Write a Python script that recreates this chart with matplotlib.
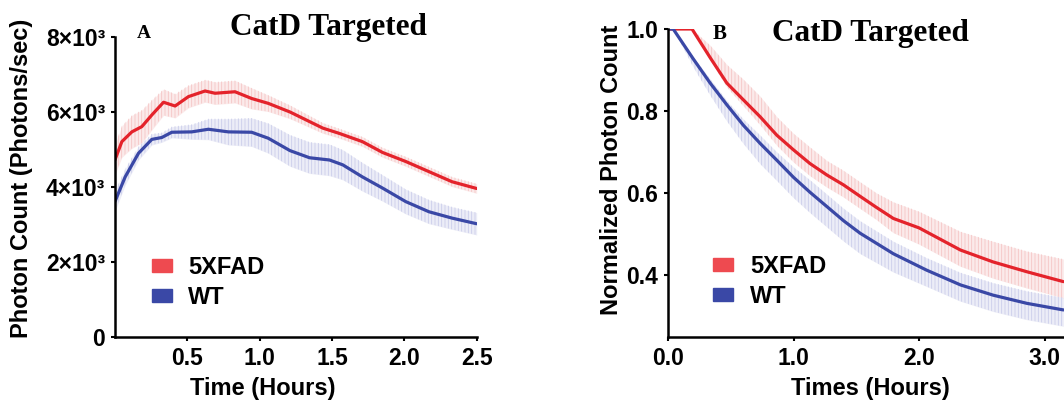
import matplotlib.pyplot as plt
from matplotlib.patches import Patch
from matplotlib.ticker import FixedLocator

# Panel A: raw photon counts (x10^3 photons/sec)
time_a_fx = [0.0, 0.048, 0.117, 0.186, 0.255, 0.336, 0.416, 0.508, 0.623, 0.692, 0.83,
             0.945, 1.06, 1.21, 1.437, 1.55, 1.71, 1.85, 2.01, 2.17, 2.33, 2.5]
fxad_a = [4.72, 5.21, 5.47, 5.61, 5.92, 6.26, 6.16, 6.41, 6.56, 6.50, 6.54,
          6.36, 6.23, 6.00, 5.57, 5.43, 5.21, 4.92, 4.68, 4.41, 4.14, 3.96]
fxad_a_err = [0.4, 0.42, 0.44, 0.44, 0.4, 0.35, 0.32, 0.3, 0.3, 0.3, 0.3,
              0.28, 0.22, 0.18, 0.14, 0.13, 0.13, 0.13, 0.13, 0.13, 0.13, 0.13]
time_a_wt = [0.0, 0.071, 0.163, 0.255, 0.324, 0.393, 0.531, 0.646, 0.784, 0.945, 1.06,
             1.21, 1.345, 1.483, 1.575, 1.71, 1.85, 2.01, 2.17, 2.33, 2.5]
wt_a = [3.61, 4.27, 4.90, 5.27, 5.32, 5.46, 5.47, 5.54, 5.47, 5.46, 5.30,
        4.97, 4.78, 4.72, 4.59, 4.27, 3.97, 3.61, 3.34, 3.17, 3.02]
wt_a_err = [0.27, 0.22, 0.18, 0.15, 0.13, 0.15, 0.2, 0.28, 0.35, 0.38, 0.4,
            0.42, 0.42, 0.42, 0.4, 0.38, 0.35, 0.33, 0.32, 0.3, 0.3]

# Panel B: normalized photon counts
time_b_fx = [0.0, 0.19, 0.335, 0.468, 0.6, 0.733, 0.866, 1.0, 1.13, 1.265, 1.397, 1.53,
             1.66, 1.795, 2.0, 2.33, 2.59, 2.86, 3.15]
fxad_b = [1.0, 1.0, 0.93, 0.868, 0.827, 0.786, 0.741, 0.705, 0.672, 0.644, 0.62, 0.592,
          0.565, 0.538, 0.515, 0.461, 0.432, 0.408, 0.384]
fxad_b_hi = [0.0, 0.0, 0.03, 0.045, 0.05, 0.05, 0.045, 0.04, 0.04, 0.035, 0.035, 0.035,
             0.035, 0.04, 0.04, 0.045, 0.05, 0.05, 0.055]
fxad_b_lo = [0.0, 0.0, 0.005, 0.01, 0.015, 0.02, 0.025, 0.03, 0.03, 0.03, 0.03, 0.03,
             0.03, 0.035, 0.04, 0.04, 0.04, 0.04, 0.04]
time_b_wt = [0.0, 0.04, 0.2, 0.335, 0.468, 0.6, 0.733, 0.866, 1.0, 1.13, 1.265, 1.4,
             1.53, 1.795, 2.06, 2.33, 2.59, 2.86, 3.15]
wt_b = [1.0, 1.0, 0.927, 0.868, 0.815, 0.765, 0.721, 0.68, 0.638, 0.602, 0.567, 0.532,
        0.502, 0.452, 0.412, 0.376, 0.351, 0.331, 0.315]
wt_b_hi = [0.0, 0.0, 0.005, 0.01, 0.01, 0.015, 0.02, 0.02, 0.025, 0.03, 0.03, 0.03,
           0.03, 0.03, 0.03, 0.03, 0.03, 0.03, 0.03]
wt_b_lo = [0.0, 0.0, 0.02, 0.03, 0.04, 0.045, 0.05, 0.05, 0.05, 0.05, 0.05, 0.05,
           0.05, 0.045, 0.04, 0.04, 0.04, 0.04, 0.04]

labels = ['5XFAD', 'WT']
red, blue = '#e4232b', '#3a48a6'
red_band, blue_band = '#f5c4c4', '#cbcdea'
red_patch, blue_patch = '#ee4a50', '#3a48a6'

plt.rcParams['font.family'] = 'Liberation Sans'
plt.rcParams['font.weight'] = 'bold'
plt.rcParams['axes.labelweight'] = 'bold'
plt.rcParams['hatch.linewidth'] = 0.6

fig = plt.figure(figsize=(10.64, 4), dpi=100)
ax_a = fig.add_axes([0.108, 0.1575, 0.340, 0.75])
ax_b = fig.add_axes([0.628, 0.1575, 0.372, 0.77])


def band(ax, t, y, lo_err, hi_err, color, line_color):
    lo = [v - e for v, e in zip(y, lo_err)]
    hi = [v + e for v, e in zip(y, hi_err)]
    ax.fill_between(t, lo, hi, facecolor='none', edgecolor=color, hatch='|||||', linewidth=0)
    ax.fill_between(t, lo, hi, color=color, alpha=0.35, linewidth=0)
    ax.plot(t, y, color=line_color, lw=2.3, solid_capstyle='round', solid_joinstyle='round')


def style(ax):
    for s in ['top', 'right']:
        ax.spines[s].set_visible(False)
    for s in ['left', 'bottom']:
        ax.spines[s].set_linewidth(1.8)
    ax.tick_params(width=1.5, length=3, labelsize=16.5, pad=4)


# Panel A
band(ax_a, time_a_fx, [v * 1000 for v in fxad_a], [e * 1000 for e in fxad_a_err],
     [e * 1000 for e in fxad_a_err], red_band, red)
band(ax_a, time_a_wt, [v * 1000 for v in wt_a], [e * 1000 for e in wt_a_err],
     [e * 1000 for e in wt_a_err], blue_band, blue)
ax_a.set_xlim(0, 2.5)
ax_a.set_ylim(0, 8000)
ax_a.xaxis.set_major_locator(FixedLocator([0.5, 1.0, 1.5, 2.0, 2.5]))
ax_a.set_xticklabels(['0.5', '1.0', '1.5', '2.0', '2.5'])
ax_a.yaxis.set_major_locator(FixedLocator([0, 2000, 4000, 6000, 8000]))
ax_a.set_yticklabels(['0', '2×10³', '4×10³', '6×10³', '8×10³'])
ax_a.set_xlabel('Time (Hours)', fontsize=17)
ax_a.set_ylabel('Photon Count (Photons/sec)', fontsize=17)
ax_a.xaxis.set_label_coords(0.41, -0.133)
ax_a.yaxis.set_label_coords(-0.227, 0.53)
style(ax_a)
ax_a.text(0.06, 1.01, 'A', transform=ax_a.transAxes, family='Liberation Serif',
          fontsize=14, fontweight='bold', va='center')
ax_a.text(0.59, 1.03, 'CatD Targeted', transform=ax_a.transAxes, family='Liberation Serif',
          fontsize=22.5, fontweight='bold', ha='center', va='center')
ax_a.legend(handles=[Patch(color=red_patch), Patch(color=blue_patch)], labels=labels,
            loc='lower left', bbox_to_anchor=(0.043, 0.022), frameon=False, fontsize=17,
            handlelength=0.85, handleheight=0.5, labelspacing=0.3, handletextpad=0.7)

# Panel B
band(ax_b, time_b_fx, fxad_b, fxad_b_lo, fxad_b_hi, red_band, red)
band(ax_b, time_b_wt, wt_b, wt_b_lo, wt_b_hi, blue_band, blue)
ax_b.set_xlim(0, 3.155)
ax_b.set_ylim(0.249, 1.0)
ax_b.xaxis.set_major_locator(FixedLocator([0.0, 1.0, 2.0, 3.0]))
ax_b.set_xticklabels(['0.0', '1.0', '2.0', '3.0'])
ax_b.yaxis.set_major_locator(FixedLocator([0.4, 0.6, 0.8, 1.0]))
ax_b.set_yticklabels(['0.4', '0.6', '0.8', '1.0'])
ax_b.set_xlabel('Times (Hours)', fontsize=17)
ax_b.set_ylabel('Normalized Photon Count', fontsize=17)
ax_b.xaxis.set_label_coords(0.51, -0.13)
ax_b.yaxis.set_label_coords(-0.114, 0.542)
style(ax_b)
ax_b.text(0.113, 0.985, 'B', transform=ax_b.transAxes, family='Liberation Serif',
          fontsize=15, fontweight='bold', va='center')
ax_b.text(0.51, 0.985, 'CatD Targeted', transform=ax_b.transAxes, family='Liberation Serif',
          fontsize=22.5, fontweight='bold', ha='center', va='center')
ax_b.legend(handles=[Patch(color=red_patch), Patch(color=blue_patch)], labels=labels,
            loc='lower left', bbox_to_anchor=(0.06, 0.025), frameon=False, fontsize=17,
            handlelength=0.85, handleheight=0.5, labelspacing=0.3, handletextpad=0.7)

fig.savefig('out.png', dpi=100)
